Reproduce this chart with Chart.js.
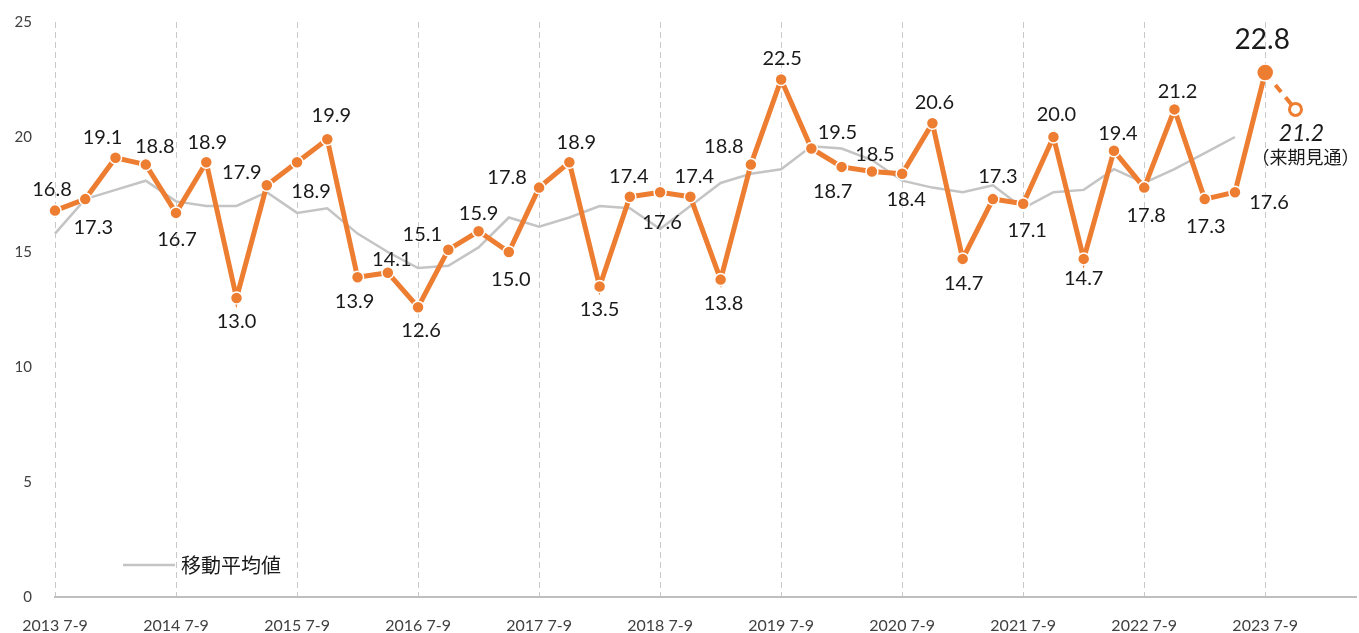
<!DOCTYPE html>
<html>
<head>
<meta charset="utf-8">
<script src="https://cdn.jsdelivr.net/npm/chart.js@4/dist/chart.umd.min.js"></script>
<style>
  html, body { margin: 0; padding: 0; background: #fff; }
  #wrap { position: relative; width: 1359px; height: 633px; }
</style>
</head>
<body>
<div id="wrap"><canvas id="chart"></canvas></div>
<script>
// quarters (only every 4th one gets a tick label)
const categories = [
  '2013 7-9', '2013 10-12', '2014 1-3', '2014 4-6',
  '2014 7-9', '2014 10-12', '2015 1-3', '2015 4-6',
  '2015 7-9', '2015 10-12', '2016 1-3', '2016 4-6',
  '2016 7-9', '2016 10-12', '2017 1-3', '2017 4-6',
  '2017 7-9', '2017 10-12', '2018 1-3', '2018 4-6',
  '2018 7-9', '2018 10-12', '2019 1-3', '2019 4-6',
  '2019 7-9', '2019 10-12', '2020 1-3', '2020 4-6',
  '2020 7-9', '2020 10-12', '2021 1-3', '2021 4-6',
  '2021 7-9', '2021 10-12', '2022 1-3', '2022 4-6',
  '2022 7-9', '2022 10-12', '2023 1-3', '2023 4-6',
  '2023 7-9', '2023 10-12', '2024 1-3', '2024 4-6'
];

const actual = [
  16.8, 17.3, 19.1, 18.8, 16.7, 18.9, 13.0, 17.9, 18.9, 19.9,
  13.9, 14.1, 12.6, 15.1, 15.9, 15.0, 17.8, 18.9, 13.5, 17.4,
  17.6, 17.4, 13.8, 18.8, 22.5, 19.5, 18.7, 18.5, 18.4, 20.6,
  14.7, 17.3, 17.1, 20.0, 14.7, 19.4, 17.8, 21.2, 17.3, 17.6,
  22.8
];

const forecast = [21.2];
const forecastNote = '（来期見通）';

const movingAvg = [
  15.8, 17.3, 17.7, 18.1, 17.2, 17.0, 17.0, 17.6, 16.7, 16.9,
  15.8, 15.0, 14.3, 14.4, 15.2, 16.5, 16.1, 16.5, 17.0, 16.9,
  16.0, 17.0, 18.0, 18.4, 18.6, 19.6, 19.5, 19.0, 18.1, 17.8,
  17.6, 17.9, 16.9, 17.6, 17.7, 18.6, 18.0, 18.6, 19.3, 20.0
];
const movingAvgLabel = '移動平均値';

const yTicks = [0, 5, 10, 15, 20, 25];

// label nudges [dx, dy] from each point
const labelOffsets = [
  [-3, -21], [8, 28], [-13, -20], [9, -18], [1, 27], [1, -20], [0, 24], [-25, -13], [14, 29], [4, -24],
  [-3, 24], [4, -13], [3, 23], [-26, -15], [0, -18], [2, 28], [-32, -10], [7, -20], [0, 23], [-1, -20],
  [2, 30], [4, -20], [3, 24], [-27, -18], [1, -21], [26, -16], [-9, 25], [3, -17], [4, 26], [2, -21],
  [1, 25], [5, -23], [4, 27], [3, -22], [0, 20], [4, -17], [2, 28], [3, -18], [1, 27], [34, 10],
  [-3, -33]
];

const ORANGE = '#ED7D31';
const GRAY = '#c4c4c4';
const TEXT = '#1a1a1a';
const FONT = 'Lato, "Noto Sans", sans-serif';
const JP_FONT = '"Noto Sans CJK JP", sans-serif';

const last = actual.length - 1;
const forecastLine = categories.map((c, i) => {
  if (i === last) return actual[last];
  if (i > last && i - last - 1 < forecast.length) return forecast[i - last - 1];
  return null;
});

const labelPlugin = {
  id: 'valueLabels',
  afterDatasetsDraw(chart) {
    const ctx = chart.ctx;
    const meta = chart.getDatasetMeta(0);
    ctx.save();
    ctx.textAlign = 'center';
    ctx.textBaseline = 'middle';
    ctx.fillStyle = TEXT;
    meta.data.forEach((pt, i) => {
      const [dx, dy] = labelOffsets[i] || [0, -22];
      ctx.font = (i === last ? '28px ' : '20px ') + FONT;
      ctx.fillText(actual[i].toFixed(1), pt.x + dx, pt.y + dy);
    });

    // forecast value + note
    const fMeta = chart.getDatasetMeta(1);
    const fp = fMeta.data[last + 1];
    if (fp) {
      ctx.font = 'italic 23px ' + FONT;
      ctx.fillText(forecast[0].toFixed(1), fp.x + 6, fp.y + 24);
      ctx.font = '18px ' + JP_FONT;
      ctx.fillText(forecastNote, fp.x + 10, fp.y + 48);
    }

    // legend for the moving average, inside the plot
    const lx = chart.chartArea.left + 68;
    const ly = chart.chartArea.bottom - 32;
    ctx.strokeStyle = GRAY;
    ctx.lineWidth = 2.5;
    ctx.beginPath();
    ctx.moveTo(lx, ly);
    ctx.lineTo(lx + 52, ly);
    ctx.stroke();
    ctx.textAlign = 'left';
    ctx.font = '20px ' + JP_FONT;
    ctx.fillText(movingAvgLabel, lx + 58, ly);
    ctx.restore();
  }
};

new Chart(document.getElementById('chart'), {
  type: 'line',
  data: {
    labels: categories,
    datasets: [
      {
        label: 'actual',
        data: actual,
        order: 0,
        borderColor: ORANGE,
        borderWidth: 5,
        backgroundColor: ORANGE,
        pointBackgroundColor: ORANGE,
        pointBorderColor: '#fff',
        pointBorderWidth: 1.5,
        pointRadius: (c) => c.dataIndex === last ? 8.5 : 6,
        tension: 0
      },
      {
        label: 'forecast',
        data: forecastLine,
        order: 1,
        borderColor: ORANGE,
        borderWidth: 4,
        borderDash: [9, 7],
        pointBackgroundColor: '#fff',
        pointBorderColor: ORANGE,
        pointBorderWidth: 3,
        pointRadius: (c) => c.dataIndex > last ? 6 : 0,
        spanGaps: false,
        tension: 0
      },
      {
        label: movingAvgLabel,
        data: movingAvg,
        order: 2,
        borderColor: GRAY,
        borderWidth: 2.5,
        pointRadius: 0,
        tension: 0
      }
    ]
  },
  options: {
    responsive: true,
    maintainAspectRatio: false,
    animation: false,
    layout: { autoPadding: false, padding: { top: 22, right: 3, left: 0, bottom: 0 } },
    plugins: {
      legend: { display: false },
      tooltip: { enabled: false }
    },
    scales: {
      x: {
        type: 'category',
        offset: false,
        afterFit: (s) => {
          s.height = 36;
          s.paddingLeft = 0;
          s.paddingRight = 0;
        },
        grid: {
          drawTicks: false,
          lineWidth: 1,
          color: (c) => (c.index % 4 === 0 && c.index <= last) ? '#c8c8c8' : 'rgba(0,0,0,0)'
        },
        border: { display: true, color: '#bfbfbf', width: 2, dash: [6, 4] },
        ticks: {
          autoSkip: false,
          maxRotation: 0,
          padding: 19,
          color: '#404040',
          font: { family: FONT, size: 16 },
          callback: function (value, index) {
            return index % 4 === 0 ? this.getLabelForValue(value) : '';
          }
        }
      },
      y: {
        min: yTicks[0],
        max: yTicks[yTicks.length - 1],
        afterFit: (s) => {
          s.width = 55;
          s.paddingTop = 0;
          s.paddingBottom = 0;
        },
        afterBuildTicks: (s) => { s.ticks = yTicks.map(v => ({ value: v })); },
        grid: { display: false, drawTicks: false },
        border: { display: false },
        ticks: {
          padding: 23,
          color: '#404040',
          font: { family: FONT, size: 15 }
        }
      }
    }
  },
  plugins: [labelPlugin]
});
</script>
</body>
</html>
